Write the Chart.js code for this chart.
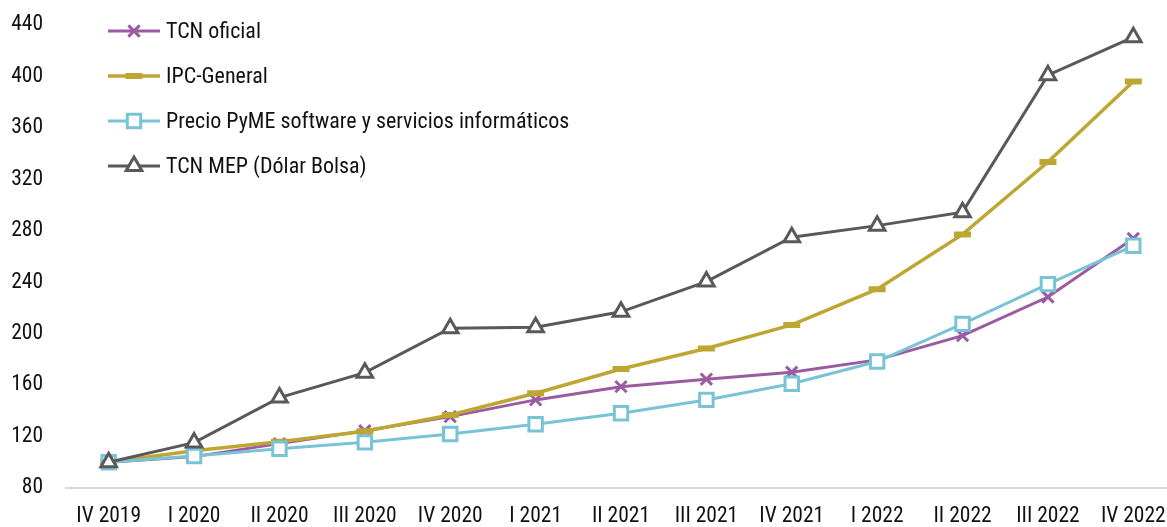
<!DOCTYPE html>
<html>
<head>
<meta charset="utf-8">
<script src="https://cdn.jsdelivr.net/npm/chart.js@4/dist/chart.umd.min.js"></script>
<style>
  html, body { margin: 0; padding: 0; background: #fff; overflow: hidden; }
  /* the last category band runs a few pixels past the visible window */
  #wrap { width: 1176px; height: 527px; position: relative; }
</style>
</head>
<body>
<div id="wrap"><canvas id="c" width="1176" height="527"></canvas></div>
<script>
// Trimestres
const categories = ['IV 2019', 'I 2020', 'II 2020', 'III 2020', 'IV 2020', 'I 2021', 'II 2021',
  'III 2021', 'IV 2021', 'I 2022', 'II 2022', 'III 2022', 'IV 2022'];

// Índices base IV 2019 = 100
const tcnOficial = [100, 104.4, 114.5, 124.5, 135.5, 148.5, 158.8, 164.6, 170, 179.6, 198.5, 228.5, 274];
const ipcGeneral = [100, 109, 116, 124.2, 136.8, 153.7, 172.5, 188.5, 206.8, 234.6, 277.2, 333.5, 396];
const precioPyme = [100, 104.9, 110.5, 115.5, 122, 129.6, 138.1, 148.5, 161, 178.3, 207.6, 238.5, 268.3];
const tcnMep = [100, 115.3, 150.3, 169.7, 204.3, 205, 217, 240.5, 275, 284, 294.5, 401, 430.5];

const yTicks = [80, 120, 160, 200, 240, 280, 320, 360, 400, 440];

const FAMILY = '"Roboto Condensed", "Liberation Sans", Arial, sans-serif';
const TICK_FONT = { family: FAMILY, size: 21.5 };
const LEGEND_SIZE = 22;

const datasets = [
  { label: 'TCN oficial', data: tcnOficial, borderColor: '#9B5BA1', borderWidth: 3,
    pointStyle: 'crossRot', pointRadius: 8, pointBorderWidth: 3, pointBackgroundColor: '#9B5BA1', order: 3 },
  { label: 'IPC-General', data: ipcGeneral, borderColor: '#BDA732', borderWidth: 3.5,
    pointStyle: 'line', pointRadius: 8.5, pointBorderWidth: 6, pointBackgroundColor: '#BDA732', order: 2 },
  { label: 'Precio PyME software y servicios informáticos', data: precioPyme, borderColor: '#79C3D6', borderWidth: 3,
    pointStyle: 'rect', pointRadius: 9.5, pointBorderWidth: 3, pointBackgroundColor: '#ffffff', order: 1 },
  { label: 'TCN MEP (Dólar Bolsa)', data: tcnMep, borderColor: '#595959', borderWidth: 3,
    pointStyle: 'triangle', pointRadius: 9, pointBorderWidth: 3, pointBackgroundColor: '#ffffff', order: 0 }
];
datasets.forEach(d => { d.tension = 0; d.fill = false; d.pointBorderColor = d.borderColor; d.pointHoverRadius = d.pointRadius; });

// Leyenda vertical dentro del área del gráfico
const legendPlugin = {
  id: 'stackedLegend',
  afterDraw(chart) {
    const ctx = chart.ctx;
    const x0 = 108, x1 = 160, tx = 166, y0 = 31, dy = 45;
    chart.data.datasets.forEach((ds, i) => {
      const y = y0 + i * dy;
      ctx.save();
      ctx.strokeStyle = ds.borderColor;
      ctx.lineWidth = ds.borderWidth;
      ctx.beginPath();
      ctx.moveTo(x0, y);
      ctx.lineTo(x1, y);
      ctx.stroke();
      ctx.fillStyle = ds.pointBackgroundColor;
      ctx.strokeStyle = ds.borderColor;
      ctx.lineWidth = ds.pointBorderWidth;
      Chart.helpers.drawPoint(ctx, {
        pointStyle: ds.pointStyle, radius: ds.pointRadius, rotation: 0, borderWidth: ds.pointBorderWidth
      }, (x0 + x1) / 2, y);
      ctx.fillStyle = '#111';
      ctx.font = LEGEND_SIZE + 'px ' + FAMILY;
      ctx.textBaseline = 'middle';
      ctx.textAlign = 'left';
      ctx.fillText(ds.label, tx, y + 1);
      ctx.restore();
    });
  }
};

new Chart(document.getElementById('c'), {
  type: 'line',
  data: { labels: categories, datasets },
  plugins: [legendPlugin],
  options: {
    responsive: false,
    animation: false,
    events: [],
    layout: { autoPadding: false, padding: { top: 25, right: 0, left: 0, bottom: 0 } },
    plugins: { legend: { display: false }, tooltip: { enabled: false } },
    scales: {
      x: {
        offset: true,
        grid: { display: false, drawTicks: false },
        border: { display: true, color: '#D9D9D9', width: 2 },
        ticks: { color: '#111', font: TICK_FONT, padding: 16, maxRotation: 0, autoSkip: false },
        afterFit(s) { s.height = 39; s.paddingLeft = 0; s.paddingRight = 0; }
      },
      y: {
        min: 80, max: 440,
        afterBuildTicks(s) { s.ticks = yTicks.map(v => ({ value: v })); },
        grid: { display: false, drawTicks: false },
        border: { display: false },
        ticks: { color: '#111', font: TICK_FONT, padding: 23 },
        afterFit(s) { s.width = 66; s.paddingTop = 0; s.paddingBottom = 0; }
      }
    }
  }
});
</script>
</body>
</html>
